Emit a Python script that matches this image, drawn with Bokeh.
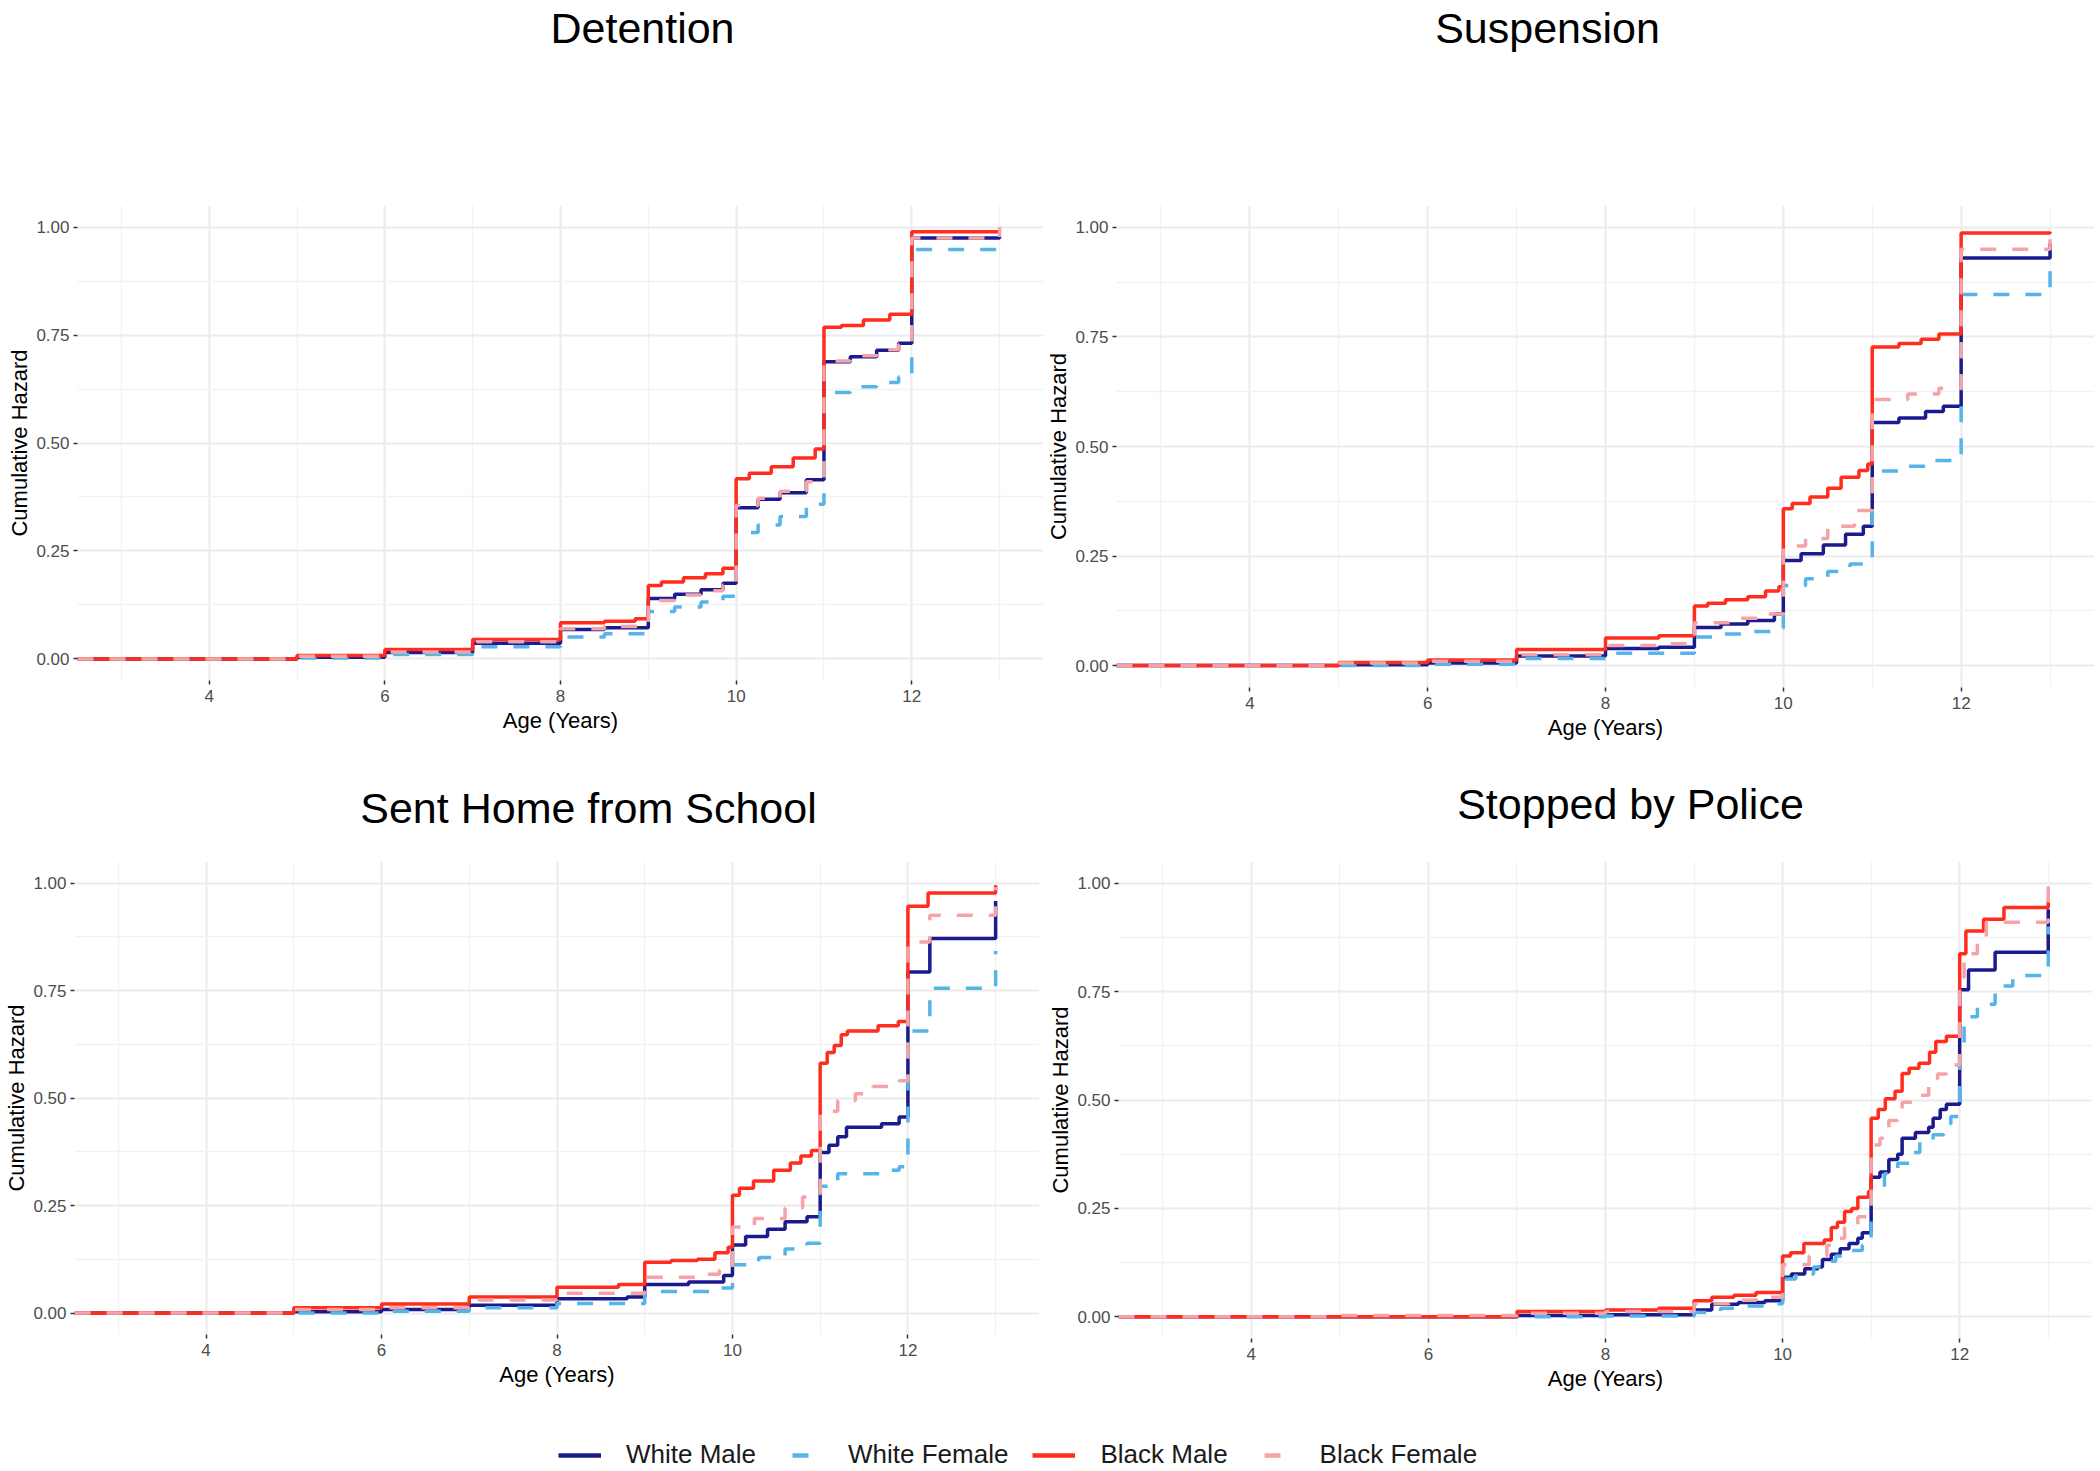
from bokeh.plotting import figure
from bokeh.layouts import column, row
from bokeh.models import (Range1d, FixedTicker, PrintfTickFormatter, Label,
                          Legend, LegendItem)
from bokeh.embed import file_html
from bokeh.resources import INLINE

FONT = "Liberation Sans"

# ---------------- data ----------------
series_names = ["White Male", "White Female", "Black Male", "Black Female"]
series_colors = ["#1B1B8E", "#56B4E9", "#FF2D1E", "#F4A4A8"]
series_dashes = ["solid", "16 16", "solid", "16 16"]

panel_titles = ["Detention", "Suspension", "Sent Home from School", "Stopped by Police"]
x_ticks = [4, 6, 8, 10, 12]
x_minor = [3, 5, 7, 9, 11, 13]
y_ticks = [0, 0.25, 0.5, 0.75, 1.0]
y_minor = [0.125, 0.375, 0.625, 0.875]

# Detention
det_wm_age = [2.5, 5, 6, 7, 8, 8.5, 9, 9.3, 9.6, 9.85, 10, 10.25, 10.5, 10.8, 11, 11.3, 11.6, 11.85, 12, 13]
det_wm_haz = [0, 0.004, 0.015, 0.036, 0.068, 0.072, 0.14, 0.15, 0.16, 0.175, 0.35, 0.37, 0.385, 0.415, 0.688, 0.7, 0.715, 0.731, 0.975, 0.978]
det_wf_age = [2.5, 5, 6, 7, 8, 8.5, 9, 9.3, 9.6, 9.85, 10, 10.25, 10.5, 10.8, 11, 11.3, 11.6, 11.85, 12, 13]
det_wf_haz = [0, 0.002, 0.01, 0.028, 0.051, 0.058, 0.11, 0.12, 0.132, 0.145, 0.293, 0.31, 0.33, 0.358, 0.617, 0.63, 0.64, 0.653, 0.948, 0.965]
det_bm_age = [2.5, 5, 6, 7, 8, 8.5, 8.85, 9, 9.15, 9.4, 9.65, 9.85, 10, 10.15, 10.4, 10.65, 10.9, 11, 11.2, 11.45, 11.75, 12, 13]
det_bm_haz = [0, 0.008, 0.022, 0.045, 0.084, 0.087, 0.093, 0.17, 0.178, 0.188, 0.197, 0.21, 0.417, 0.43, 0.445, 0.465, 0.486, 0.768, 0.772, 0.785, 0.798, 0.989, 0.99]
det_bf_age = [2.5, 5, 6, 7, 8, 8.5, 9, 9.3, 9.6, 9.85, 10, 10.25, 10.5, 10.8, 11, 11.3, 11.6, 11.85, 12, 13]
det_bf_haz = [0, 0.006, 0.016, 0.04, 0.07, 0.075, 0.135, 0.148, 0.158, 0.172, 0.355, 0.372, 0.388, 0.41, 0.69, 0.702, 0.716, 0.728, 0.975, 1.0]

# Suspension
sus_wm_age = [2.5, 5, 6, 7, 8, 8.6, 9, 9.3, 9.6, 9.9, 10, 10.2, 10.45, 10.7, 10.9, 11, 11.3, 11.6, 11.8, 12, 13]
sus_wm_haz = [0, 0.002, 0.006, 0.022, 0.039, 0.042, 0.087, 0.095, 0.103, 0.118, 0.24, 0.255, 0.275, 0.3, 0.318, 0.555, 0.565, 0.58, 0.592, 0.93, 0.963]
sus_wf_age = [2.5, 5, 6, 7, 8, 9, 9.3, 9.6, 9.9, 10, 10.25, 10.5, 10.75, 11, 11.3, 11.6, 12, 13]
sus_wf_haz = [0, 0.0, 0.003, 0.016, 0.028, 0.065, 0.072, 0.078, 0.085, 0.183, 0.198, 0.215, 0.232, 0.444, 0.455, 0.468, 0.847, 0.925]
sus_bm_age = [2.5, 5, 6, 7, 8, 8.6, 9, 9.15, 9.35, 9.6, 9.8, 9.95, 10, 10.1, 10.3, 10.5, 10.65, 10.85, 10.95, 11, 11.3, 11.55, 11.75, 12, 13]
sus_bm_haz = [0, 0.007, 0.013, 0.037, 0.063, 0.068, 0.136, 0.142, 0.15, 0.157, 0.17, 0.18, 0.358, 0.37, 0.385, 0.405, 0.43, 0.445, 0.46, 0.727, 0.735, 0.745, 0.757, 0.987, 0.99]
sus_bf_age = [2.5, 5, 6, 7, 8, 8.6, 9, 9.4, 9.8, 10, 10.25, 10.5, 10.8, 11, 11.4, 11.75, 12, 13]
sus_bf_haz = [0, 0.006, 0.01, 0.025, 0.046, 0.05, 0.098, 0.108, 0.118, 0.273, 0.29, 0.318, 0.354, 0.607, 0.62, 0.633, 0.95, 1.0]

# Sent Home from School
sh_wm_age = [2.5, 5, 6, 7, 8, 8.8, 9, 9.5, 9.9, 10, 10.15, 10.4, 10.6, 10.85, 11, 11.1, 11.2, 11.3, 11.7, 11.9, 12, 12.25, 13]
sh_wm_haz = [0, 0.003, 0.008, 0.018, 0.033, 0.037, 0.066, 0.072, 0.087, 0.158, 0.178, 0.195, 0.212, 0.224, 0.373, 0.39, 0.41, 0.432, 0.44, 0.456, 0.793, 0.871, 0.958]
sh_wf_age = [2.5, 5, 6, 7, 8, 9, 9.8, 10, 10.3, 10.6, 10.85, 11, 11.2, 11.7, 11.9, 12, 12.25, 13]
sh_wf_haz = [0, 0.0, 0.004, 0.012, 0.022, 0.05, 0.058, 0.112, 0.129, 0.149, 0.162, 0.295, 0.324, 0.332, 0.34, 0.656, 0.755, 0.842]
sh_bm_age = [2.5, 5, 6, 7, 8, 8.7, 9, 9.3, 9.6, 9.8, 9.95, 10, 10.08, 10.24, 10.47, 10.66, 10.78, 10.9, 11, 11.08, 11.16, 11.24, 11.31, 11.66, 11.89, 12, 12.23, 13]
sh_bm_haz = [0, 0.012, 0.021, 0.037, 0.06, 0.066, 0.118, 0.122, 0.125, 0.14, 0.153, 0.274, 0.29, 0.307, 0.332, 0.349, 0.365, 0.378, 0.581, 0.606, 0.622, 0.647, 0.656, 0.668, 0.678, 0.946, 0.977, 0.995]
sh_bf_age = [2.5, 5, 6, 7, 8, 9, 9.6, 9.85, 10, 10.25, 10.6, 10.8, 10.95, 11, 11.2, 11.4, 11.6, 11.9, 12, 12.25, 13]
sh_bf_haz = [0, 0.008, 0.012, 0.03, 0.046, 0.083, 0.09, 0.1, 0.2, 0.22, 0.245, 0.27, 0.278, 0.469, 0.494, 0.51, 0.527, 0.54, 0.863, 0.925, 0.99]

# Stopped by Police
sp_wm_age = [2.5, 7, 8, 9, 9.2, 9.5, 9.8, 10, 10.1, 10.25, 10.4, 10.45, 10.55, 10.65, 10.75, 10.85, 10.9, 11, 11.1, 11.2, 11.3, 11.35, 11.5, 11.65, 11.7, 11.78, 11.85, 12, 12.1, 12.4, 13]
sp_wm_haz = [0, 0.003, 0.005, 0.016, 0.029, 0.033, 0.037, 0.091, 0.099, 0.111, 0.115, 0.132, 0.144, 0.157, 0.169, 0.181, 0.194, 0.322, 0.334, 0.363, 0.375, 0.412, 0.425, 0.437, 0.458, 0.478, 0.49, 0.754, 0.8, 0.841, 0.94]
sp_wf_age = [2.5, 8, 9, 9.3, 9.6, 9.8, 10, 10.15, 10.35, 10.45, 10.6, 10.75, 10.9, 10.95, 11, 11.15, 11.3, 11.45, 11.55, 11.7, 11.82, 11.9, 12, 12.05, 12.2, 12.4, 12.6, 13]
sp_wf_haz = [0, 0.002, 0.01, 0.02, 0.025, 0.03, 0.087, 0.099, 0.115, 0.128, 0.14, 0.153, 0.165, 0.177, 0.297, 0.33, 0.354, 0.379, 0.404, 0.42, 0.445, 0.462, 0.622, 0.692, 0.721, 0.763, 0.787, 0.9]
sp_bm_age = [2.5, 7, 8, 8.6, 9, 9.2, 9.45, 9.7, 10, 10.09, 10.24, 10.47, 10.55, 10.62, 10.7, 10.78, 10.85, 10.97, 11, 11.08, 11.16, 11.27, 11.35, 11.43, 11.54, 11.66, 11.73, 11.85, 12, 12.07, 12.27, 12.5, 13]
sp_bm_haz = [0, 0.012, 0.016, 0.02, 0.037, 0.045, 0.05, 0.056, 0.14, 0.148, 0.169, 0.177, 0.206, 0.218, 0.243, 0.25, 0.276, 0.289, 0.458, 0.478, 0.503, 0.52, 0.561, 0.573, 0.585, 0.61, 0.635, 0.647, 0.837, 0.89, 0.917, 0.944, 0.96]
sp_bf_age = [2.5, 5, 7, 8, 9, 9.4, 9.7, 10, 10.3, 10.5, 10.6, 10.7, 10.85, 10.95, 11, 11.1, 11.2, 11.3, 11.35, 11.5, 11.65, 11.75, 11.85, 12, 12.05, 12.2, 12.3, 13]
sp_bf_haz = [0, 0.003, 0.008, 0.012, 0.03, 0.038, 0.045, 0.12, 0.14, 0.165, 0.181, 0.206, 0.231, 0.247, 0.396, 0.412, 0.453, 0.466, 0.495, 0.511, 0.536, 0.56, 0.581, 0.783, 0.837, 0.874, 0.91, 1.0]

panel_data = [
    [(det_wm_age, det_wm_haz), (det_wf_age, det_wf_haz), (det_bm_age, det_bm_haz), (det_bf_age, det_bf_haz)],
    [(sus_wm_age, sus_wm_haz), (sus_wf_age, sus_wf_haz), (sus_bm_age, sus_bm_haz), (sus_bf_age, sus_bf_haz)],
    [(sh_wm_age, sh_wm_haz), (sh_wf_age, sh_wf_haz), (sh_bm_age, sh_bm_haz), (sh_bf_age, sh_bf_haz)],
    [(sp_wm_age, sp_wm_haz), (sp_wf_age, sp_wf_haz), (sp_bm_age, sp_bm_haz), (sp_bf_age, sp_bf_haz)],
]

# ---------------- layout (px) ----------------
TOTAL_W = 2094
BAND1_H = 190
ROW1_H = 580
BAND2_H = 75
ROW2_H = 570
LEG_H = 55
# (border_left, frame_w, border_right, border_top, frame_h, border_bottom)
panel_spec = [
    (77, 966, 0, 15, 475, 90),
    (73, 978, 0, 14, 482, 84),
    (74, 965, 6, 16, 473, 81),
    (73, 974, 0, 4, 477, 89),
]
# title centre x and vertical text centre (measured up from band bottom)
band1_titles = [(0, 642, BAND1_H - 27), (1, 1547, BAND1_H - 27)]
band2_titles = [(2, 588, BAND2_H - 37), (3, 1630, BAND2_H - 33)]


def make_panel(idx):
    bl, fw, br, bt, fh, bb = panel_spec[idx]
    p = figure(frame_width=fw, frame_height=fh,
               min_border_left=bl, min_border_right=br,
               min_border_top=bt, min_border_bottom=bb,
               x_range=Range1d(2.5, 13.5), y_range=Range1d(-0.05, 1.05),
               output_backend="svg", toolbar_location=None,
               background_fill_color="white", border_fill_color="white")
    p.outline_line_color = None
    p.xaxis.ticker = FixedTicker(ticks=x_ticks, minor_ticks=x_minor)
    p.yaxis.ticker = FixedTicker(ticks=y_ticks, minor_ticks=y_minor)
    p.yaxis.formatter = PrintfTickFormatter(format="%.2f")
    p.xaxis.axis_label = "Age (Years)"
    p.yaxis.axis_label = "Cumulative Hazard"
    for ax in (p.xaxis, p.yaxis):
        ax.axis_line_color = None
        ax.major_tick_line_color = "#333333"
        ax.major_tick_line_width = 1.5
        ax.major_tick_in = 0
        ax.major_tick_out = 4
        ax.minor_tick_line_color = None
        ax.major_label_text_font = FONT
        ax.major_label_text_font_size = "17px"
        ax.major_label_text_color = "#4D4D4D"
        ax.axis_label_text_font = FONT
        ax.axis_label_text_font_size = "22px"
        ax.axis_label_text_font_style = "normal"
        ax.axis_label_text_color = "black"
    p.xaxis.major_label_standoff = 5
    p.xaxis.axis_label_standoff = 3
    p.yaxis.major_label_standoff = 4
    p.yaxis.axis_label_standoff = 1
    for g in (p.xgrid, p.ygrid):
        g.grid_line_color = "#EBEBEB"
        g.grid_line_width = 2
        g.minor_grid_line_color = "#F2F2F2"
        g.minor_grid_line_width = 1.3

    for (age, haz), col, dash in zip(panel_data[idx], series_colors, series_dashes):
        p.step(x=age, y=haz, mode="after", line_color=col, line_width=3.5,
               line_dash=dash)
    return p


def make_band(height, titles):
    b = figure(width=TOTAL_W, height=height, x_range=Range1d(0, TOTAL_W),
               y_range=Range1d(0, height), output_backend="svg",
               toolbar_location=None, min_border=0,
               x_axis_type=None, y_axis_type=None,
               background_fill_color="white", border_fill_color="white")
    b.outline_line_color = None
    b.grid.visible = False
    for idx, cx, cy in titles:
        b.add_layout(Label(x=cx, y=cy, x_units="screen", y_units="screen",
                           text=panel_titles[idx], text_align="center",
                           text_baseline="middle", text_font=FONT,
                           text_font_size="43px", text_color="black"))
    return b


panels = [make_panel(i) for i in range(4)]
band1 = make_band(BAND1_H, band1_titles)
band2 = make_band(BAND2_H, band2_titles)

# ---------------- legend strip ----------------
leg = figure(width=TOTAL_W, height=LEG_H, x_range=Range1d(0, 1), y_range=Range1d(0, 1),
             output_backend="svg", toolbar_location=None, min_border=0,
             x_axis_type=None, y_axis_type=None,
             background_fill_color="white", border_fill_color="white")
leg.outline_line_color = None
leg.grid.visible = False
items = []
for name, col, dash in zip(series_names, series_colors, series_dashes):
    r = leg.line(x=[-10, -9], y=[-10, -10], line_color=col, line_width=4.5,
                 line_dash=dash, line_dash_offset=20)
    items.append(LegendItem(label=name, renderers=[r]))
legend = Legend(items=items, orientation="horizontal", location=(558, 0),
                glyph_width=43, glyph_height=26, label_standoff=25, spacing=24,
                padding=0, margin=0, border_line_color=None, background_fill_alpha=0,
                label_text_font=FONT, label_text_font_size="26px",
                label_text_color="#1a1a1a", label_height=26)
leg.add_layout(legend)

layout = column(band1, row(panels[0], panels[1]), band2,
                row(panels[2], panels[3]), leg)

with open("out.html", "w") as f:
    f.write(file_html(layout, INLINE))
